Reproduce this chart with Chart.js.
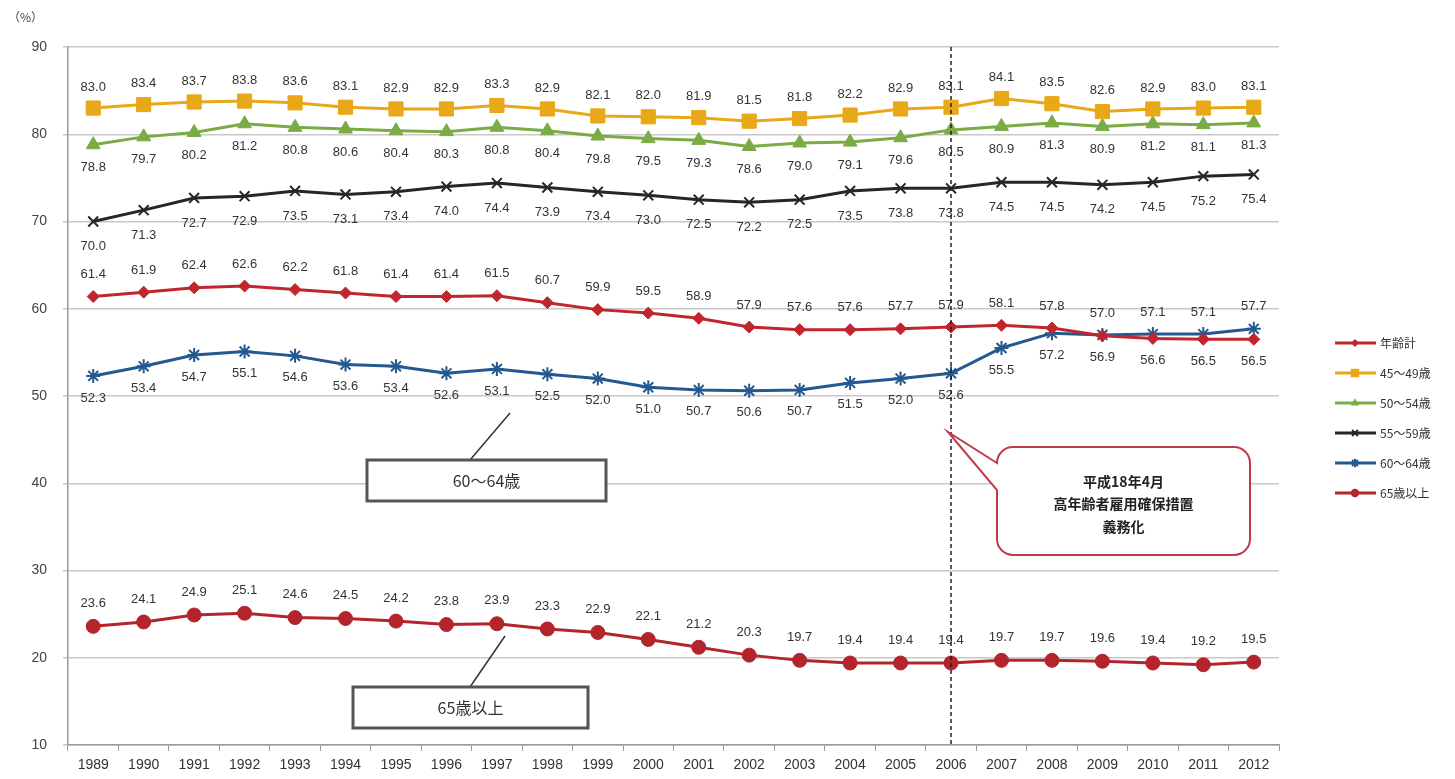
<!DOCTYPE html>
<html><head><meta charset="utf-8">
<script src="https://cdn.jsdelivr.net/npm/chart.js@4.4.1/dist/chart.umd.min.js"></script>
<style>html,body{margin:0;padding:0;background:#fff;}canvas{display:block;}</style>
</head><body>
<canvas id="c" width="1455" height="779"></canvas>
<script>
const years = ['1989','1990','1991','1992','1993','1994','1995','1996','1997','1998','1999','2000','2001','2002','2003','2004','2005','2006','2007','2008','2009','2010','2011','2012'];
const seriesNames = ['年齢計','45〜49歳','50〜54歳','55〜59歳','60〜64歳','65歳以上'];
const total   = [61.4,61.9,62.4,62.6,62.2,61.8,61.4,61.4,61.5,60.7,59.9,59.5,58.9,57.9,57.6,57.6,57.7,57.9,58.1,57.8,56.9,56.6,56.5,56.5];
const age4549 = [83.0,83.4,83.7,83.8,83.6,83.1,82.9,82.9,83.3,82.9,82.1,82.0,81.9,81.5,81.8,82.2,82.9,83.1,84.1,83.5,82.6,82.9,83.0,83.1];
const age5054 = [78.8,79.7,80.2,81.2,80.8,80.6,80.4,80.3,80.8,80.4,79.8,79.5,79.3,78.6,79.0,79.1,79.6,80.5,80.9,81.3,80.9,81.2,81.1,81.3];
const age5559 = [70.0,71.3,72.7,72.9,73.5,73.1,73.4,74.0,74.4,73.9,73.4,73.0,72.5,72.2,72.5,73.5,73.8,73.8,74.5,74.5,74.2,74.5,75.2,75.4];
const age6064 = [52.3,53.4,54.7,55.1,54.6,53.6,53.4,52.6,53.1,52.5,52.0,51.0,50.7,50.6,50.7,51.5,52.0,52.6,55.5,57.2,57.0,57.1,57.1,57.7];
const age65up = [23.6,24.1,24.9,25.1,24.6,24.5,24.2,23.8,23.9,23.3,22.9,22.1,21.2,20.3,19.7,19.4,19.4,19.4,19.7,19.7,19.6,19.4,19.2,19.5];
const yTicks = [10,20,30,40,50,60,70,80,90];
const markerYear = '2006';
const calloutLines = ['平成18年4月','高年齢者雇用確保措置','義務化'];

const RED='#c0262d', RED2='#b3242b', ORANGE='#e8a817', GREEN='#7aab45', BLACK='#262626', BLUE='#24598f';

function ds(label, data, color, style, radius, bw, pos){
  return {label, data, borderColor:color, backgroundColor:color, pointBackgroundColor:color, pointBorderColor:color,
    pointStyle:style, pointRadius:radius, pointHoverRadius:radius, pointBorderWidth:bw, borderWidth:3, tension:0, fill:false, labelPos:pos};
}
const datasets = [
  ds(seriesNames[0], total,   RED,   'rectRot', 6, 1, 'pair'),
  ds(seriesNames[1], age4549, ORANGE,'rect',   10, 1, 'above'),
  ds(seriesNames[2], age5054, GREEN, 'triangle',8, 1, 'below'),
  ds(seriesNames[3], age5559, BLACK, 'crossRot',7, 2, 'below'),
  ds(seriesNames[4], age6064, BLUE,  'star',    7, 2, 'pair'),
  ds(seriesNames[5], age65up, RED2,  'circle',  7, 1, 'above'),
];

function drawMarker(ctx, style, x, y, r, color, bw){
  ctx.save();
  ctx.fillStyle=color; ctx.strokeStyle=color; ctx.lineWidth=bw;
  ctx.beginPath();
  if(style==='circle'){ ctx.arc(x,y,r,0,Math.PI*2); ctx.fill(); }
  else if(style==='rect'){ const s=r*Math.SQRT1_2; ctx.rect(x-s,y-s,2*s,2*s); ctx.fill(); }
  else if(style==='rectRot'){ ctx.moveTo(x,y-r); ctx.lineTo(x+r,y); ctx.lineTo(x,y+r); ctx.lineTo(x-r,y); ctx.closePath(); ctx.fill(); }
  else if(style==='triangle'){ const h=r*Math.cos(Math.PI/6); ctx.moveTo(x,y-r); ctx.lineTo(x+h,y+r/2); ctx.lineTo(x-h,y+r/2); ctx.closePath(); ctx.fill(); }
  else if(style==='crossRot'){ const s=r*Math.SQRT1_2; ctx.moveTo(x-s,y-s); ctx.lineTo(x+s,y+s); ctx.moveTo(x+s,y-s); ctx.lineTo(x-s,y+s); ctx.stroke(); }
  else if(style==='star'){ const s=r*Math.SQRT1_2; ctx.moveTo(x-s,y-s); ctx.lineTo(x+s,y+s); ctx.moveTo(x+s,y-s); ctx.lineTo(x-s,y+s); ctx.moveTo(x,y-r); ctx.lineTo(x,y+r); ctx.moveTo(x-r,y); ctx.lineTo(x+r,y); ctx.stroke(); }
  ctx.restore();
}

const extras = {
  id:'extras',
  afterDatasetsDraw(chart){
    const ctx=chart.ctx, xs=chart.scales.x, area=chart.chartArea;
    // data labels
    ctx.save();
    ctx.font='13px "Liberation Sans", Arial, sans-serif';
    ctx.fillStyle='#333'; ctx.textAlign='center'; ctx.textBaseline='middle';
    chart.data.datasets.forEach((d,di)=>{
      const meta=chart.getDatasetMeta(di);
      meta.data.forEach((pt,i)=>{
        let off;
        if(d.labelPos==='above') off = (di===5?-23:-21);
        else if(d.labelPos==='below') off = (di===3?25:23);
        else {
          const other = di===0 ? age6064[i] : total[i];
          off = d.data[i] >= other ? -22 : 22;
        }
        ctx.fillText(d.data[i].toFixed(1), pt.x, pt.y+off);
      });
    });
    ctx.restore();
    // dashed vertical line
    const mx = xs.getPixelForValue(years.indexOf(markerYear));
    ctx.save();
    ctx.strokeStyle='#222'; ctx.lineWidth=1.5; ctx.setLineDash([4,3]);
    ctx.beginPath(); ctx.moveTo(mx, area.top); ctx.lineTo(mx, area.bottom); ctx.stroke();
    ctx.restore();
  },
  afterDraw(chart){
    const ctx=chart.ctx;
    ctx.save();
    // unit label
    ctx.font='12px "Noto Sans CJK JP", sans-serif'; ctx.fillStyle='#444';
    ctx.textAlign='left'; ctx.textBaseline='middle';
    ctx.fillText('（%）', 8, 17);
    // boxed labels
    function box(x1,y1,x2,y2,text,lx1,ly1,lx2,ly2){
      ctx.strokeStyle='#333'; ctx.lineWidth=1.5; ctx.setLineDash([]);
      ctx.beginPath(); ctx.moveTo(lx1,ly1); ctx.lineTo(lx2,ly2); ctx.stroke();
      ctx.fillStyle='#fff'; ctx.fillRect(x1,y1,x2-x1,y2-y1);
      ctx.strokeStyle='#555'; ctx.lineWidth=3; ctx.strokeRect(x1,y1,x2-x1,y2-y1);
      ctx.fillStyle='#333'; ctx.font='16px "Noto Sans CJK JP", sans-serif';
      ctx.textAlign='center'; ctx.textBaseline='middle';
      ctx.fillText(text,(x1+x2)/2,(y1+y2)/2);
    }
    box(367,460,606,501,seriesNames[4],470,460,510,413);
    box(353,687,588,728,seriesNames[5],470,687,505,636);
    // callout
    const bx1=997, by1=447, bx2=1250, by2=555, r=16;
    ctx.beginPath();
    ctx.moveTo(bx1+r,by1);
    ctx.lineTo(bx2-r,by1); ctx.arcTo(bx2,by1,bx2,by1+r,r);
    ctx.lineTo(bx2,by2-r); ctx.arcTo(bx2,by2,bx2-r,by2,r);
    ctx.lineTo(bx1+r,by2); ctx.arcTo(bx1,by2,bx1,by2-r,r);
    ctx.lineTo(bx1,490); ctx.lineTo(948,432); ctx.lineTo(bx1,463);
    ctx.lineTo(bx1,by1+r); ctx.arcTo(bx1,by1,bx1+r,by1,r);
    ctx.closePath();
    ctx.fillStyle='#fff'; ctx.fill();
    ctx.strokeStyle='#c03a4a'; ctx.lineWidth=2; ctx.stroke();
    ctx.fillStyle='#222'; ctx.font='bold 14px "Noto Sans CJK JP", sans-serif';
    ctx.textAlign='center'; ctx.textBaseline='middle';
    [482,504,527].forEach((yy,i)=>ctx.fillText(calloutLines[i],(bx1+bx2)/2,yy));
    // legend
    ctx.font='12px "Noto Sans CJK JP", sans-serif'; ctx.textAlign='left'; ctx.textBaseline='middle';
    chart.data.datasets.forEach((d,i)=>{
      const y=343+i*30;
      ctx.strokeStyle=d.borderColor; ctx.lineWidth=3;
      ctx.beginPath(); ctx.moveTo(1335,y); ctx.lineTo(1376,y); ctx.stroke();
      drawMarker(ctx,d.pointStyle,1355,y,Math.max(4,d.pointRadius*0.6),d.borderColor,d.pointBorderWidth);
      ctx.fillStyle='#333'; ctx.fillText(d.label,1380,y);
    });
    ctx.restore();
  }
};

new Chart(document.getElementById('c'), {
  type:'line',
  data:{labels:years, datasets},
  options:{
    responsive:false, animation:false, devicePixelRatio:1,
    layout:{padding:{left:0,top:47,right:176,bottom:0}},
    plugins:{legend:{display:false}, tooltip:{enabled:false}},
    scales:{
      x:{
        offset:true,
        grid:{offset:true, drawOnChartArea:false, drawTicks:true, tickLength:6, color:'#9a9a9a'},
        border:{display:true, color:'#9a9a9a', width:1.5},
        ticks:{autoSkip:false, maxRotation:0, padding:6, color:'#333', font:{family:'"Liberation Sans", Arial, sans-serif', size:14}},
        afterFit(s){ s.height=34; }
      },
      y:{
        min:10, max:90,
        afterBuildTicks(s){ s.ticks = yTicks.map(v=>({value:v})); },
        grid:{color:'#c8c8c8', lineWidth:1.5, tickLength:5},
        border:{display:true, color:'#9a9a9a', width:1.5},
        ticks:{padding:16, color:'#444', font:{family:'"Liberation Sans", Arial, sans-serif', size:14}},
        afterFit(s){ s.width=68; }
      }
    }
  },
  plugins:[extras]
});
</script>
</body></html>
